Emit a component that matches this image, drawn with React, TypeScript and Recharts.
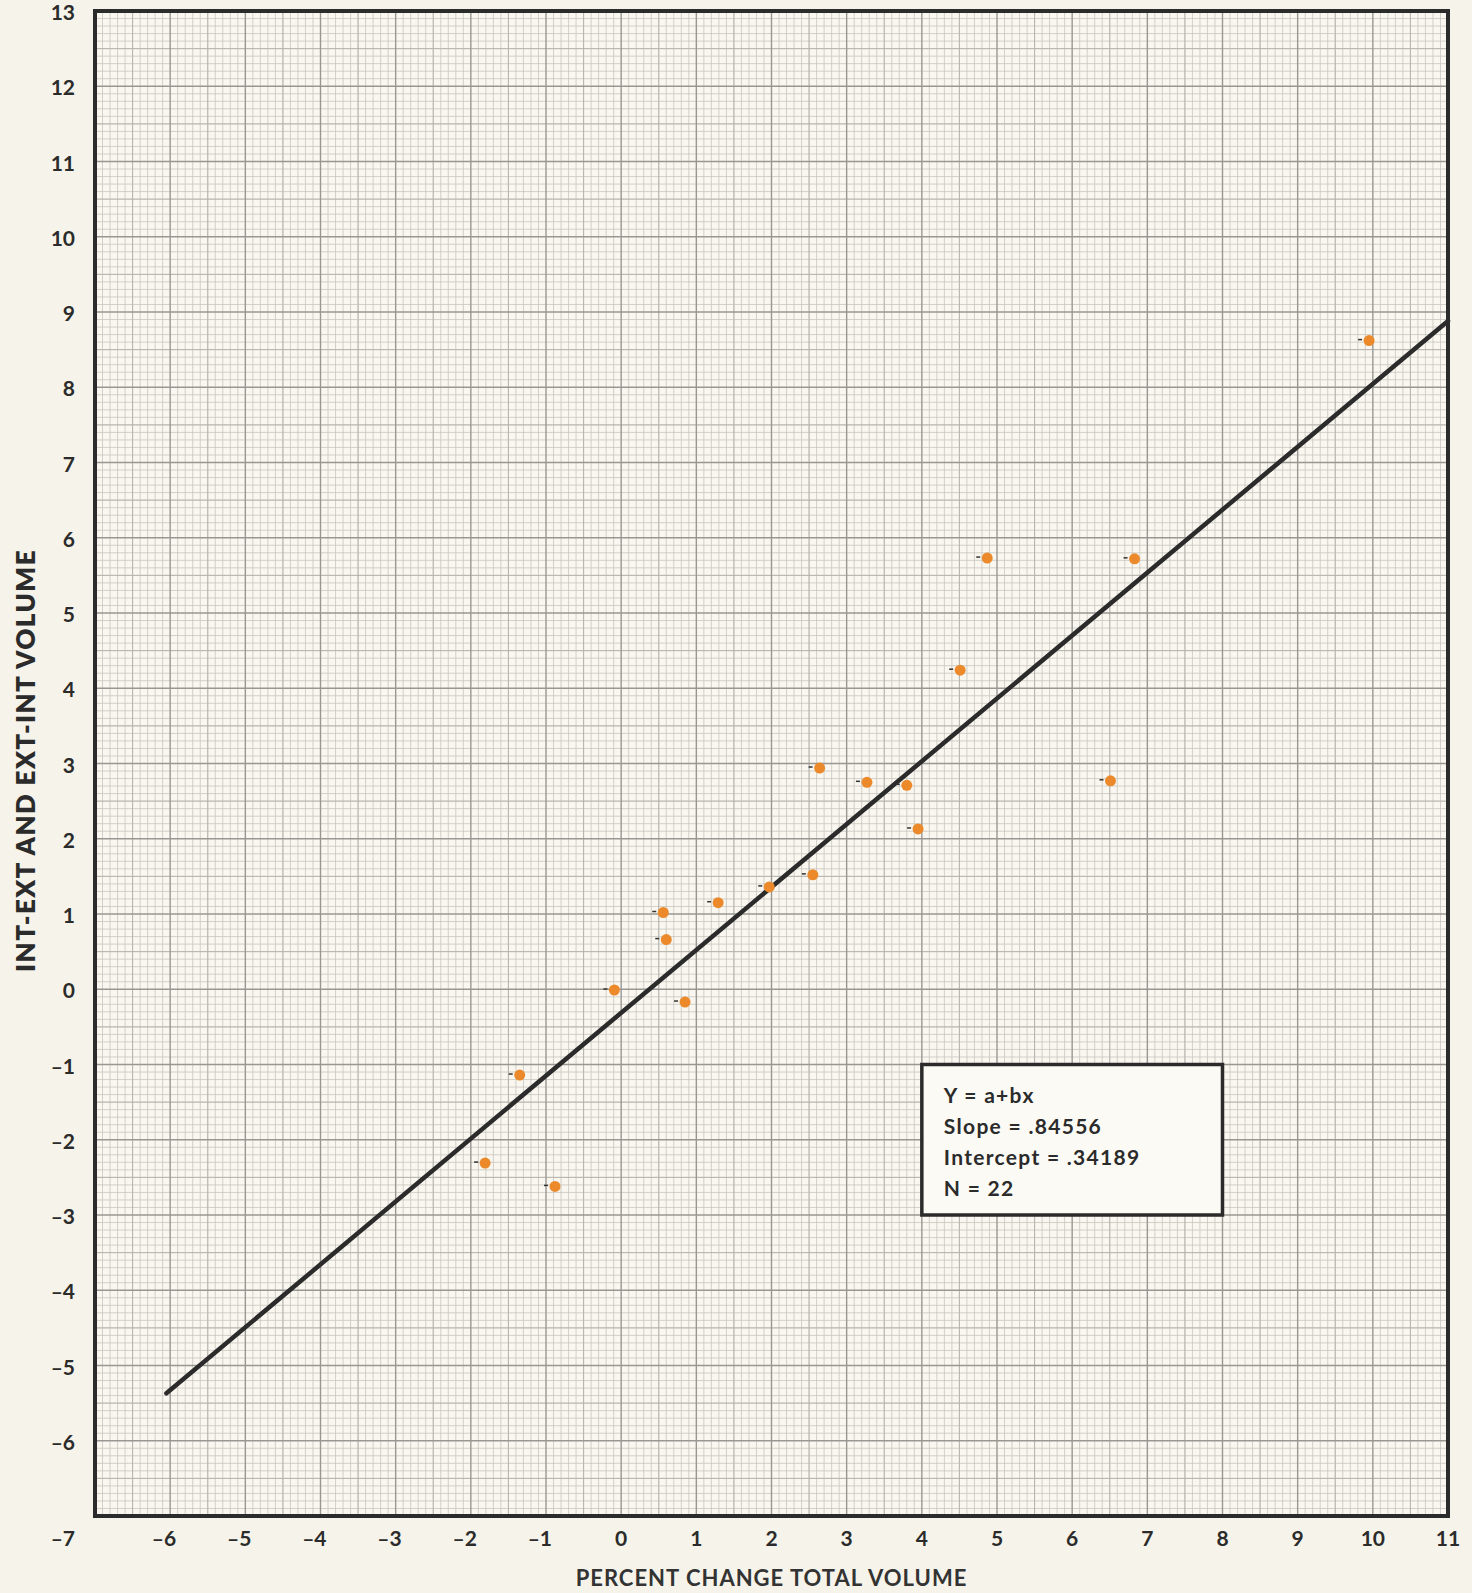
import React from "react";
import {
  ScatterChart,
  Scatter,
  XAxis,
  YAxis,
  CartesianGrid,
  ReferenceLine,
  ReferenceArea,
} from "recharts";

// observed points (percent change total volume vs int-ext / ext-int volume)
const totalChange = [9.95, 4.87, 6.83, 4.51, 2.64, 3.27, 3.8, 6.51, 3.95, 2.55, 1.97, 1.29, 0.56, 0.6, -0.09, 0.85, -1.35, -1.81, -0.88];
const intExtChange = [8.62, 5.73, 5.72, 4.24, 2.94, 2.75, 2.71, 2.77, 2.13, 1.52, 1.36, 1.15, 1.02, 0.66, -0.01, -0.17, -1.14, -2.31, -2.62];

// fitted line as drawn on the sheet
const fitX = [-6.05, 11];
const fitY = [-5.37, 8.88];

const xTicks = [-7, -6, -5, -4, -3, -2, -1, 0, 1, 2, 3, 4, 5, 6, 7, 8, 9, 10, 11];
const yTicks = [-7, -6, -5, -4, -3, -2, -1, 0, 1, 2, 3, 4, 5, 6, 7, 8, 9, 10, 11, 12, 13];
const yLabelled = [-6, -5, -4, -3, -2, -1, 0, 1, 2, 3, 4, 5, 6, 7, 8, 9, 10, 11, 12, 13];

const boxLines = ["Y = a+bx", "Slope = .84556", "Intercept = .34189", "N = 22"];
const boxX = [4, 8];
const boxY = [-1, -3];

const points = totalChange.map((x, i) => ({ x, y: intExtChange[i] }));

// graph paper rulings: tenths between the whole-number lines
const subdivide = (lo: number, hi: number) => {
  const out: number[] = [];
  for (let k = Math.round(lo * 10); k <= Math.round(hi * 10); k += 1) {
    if (k % 10 !== 0) out.push(k / 10);
  }
  return out;
};
const xMinor = subdivide(-7, 11);
const yMinor = subdivide(-7, 13);
const xHalf = xMinor.filter((v) => Math.abs(Math.round(v * 10) % 10) === 5);
const yHalf = yMinor.filter((v) => Math.abs(Math.round(v * 10) % 10) === 5);

const FONT = "Lato, 'Open Sans', sans-serif";
const INK = "#2b2b2b";

const fmt = (v: number) => (v < 0 ? "\u2013" + Math.abs(v) : String(v));

const XTick = (props: any) => {
  const { x, y, payload } = props;
  const v = payload.value;
  const neg = v < 0;
  let tx = neg ? x + 6 : x;
  if (v === -7) tx = x - 20;
  return (
    <text
      x={tx}
      y={y + 14.5}
      textAnchor={neg ? "end" : "middle"}
      fontFamily={FONT}
      fontWeight={700}
      fontSize={21}
      fill={INK}
    >
      {fmt(v)}
    </text>
  );
};

const YTick = (props: any) => {
  const { x, y, payload } = props;
  return (
    <text
      x={x}
      y={y + 9}
      textAnchor="end"
      fontFamily={FONT}
      fontWeight={700}
      fontSize={21}
      fill={INK}
    >
      {fmt(payload.value)}
    </text>
  );
};

const Dot = (props: any) => {
  const { cx, cy } = props;
  return (
    <g>
      <line x1={cx - 11} y1={cy - 1} x2={cx - 7} y2={cy - 1} stroke="#333" strokeWidth={1.5} />
      <circle cx={cx} cy={cy} r={5.5} fill="#ec8a2b" />
    </g>
  );
};

const BoxText = (props: any) => {
  const { viewBox } = props;
  const { x, y } = viewBox;
  return (
    <g>
      {boxLines.map((t, i) => (
        <text
          key={t}
          x={x + 22}
          y={y + 38 + i * 31}
          fontFamily={FONT}
          fontWeight={700}
          fontSize={21}
          letterSpacing={1.3}
          fill={INK}
        >
          {t}
        </text>
      ))}
    </g>
  );
};

const XTitle = (props: any) => {
  const { viewBox } = props;
  return (
    <text
      x={viewBox.x + viewBox.width / 2}
      y={viewBox.y + 70}
      textAnchor="middle"
      fontFamily={FONT}
      fontWeight={700}
      fontSize={22}
      letterSpacing={1}
      fill="#333"
    >
      PERCENT CHANGE TOTAL VOLUME
    </text>
  );
};

const YTitle = (props: any) => {
  const { viewBox } = props;
  const cx = 25;
  const cy = viewBox.y + viewBox.height / 2 - 3;
  return (
    <text
      x={cx}
      y={cy}
      transform={`rotate(-90 ${cx} ${cy})`}
      textAnchor="middle"
      dominantBaseline="central"
      fontFamily={FONT}
      fontWeight={800}
      fontSize={26}
      letterSpacing={1.4}
      fill={INK}
    >
      INT-EXT AND EXT-INT VOLUME
    </text>
  );
};

export default function App() {
  return (
    <div style={{ position: "absolute", left: 0, top: 0, width: 1472, height: 1593, background: "#f6f4ea" }}>
      <ScatterChart width={1472} height={1593} margin={{ top: 11, right: 24, bottom: 0, left: 0 }}>
        <ReferenceArea x1={-7} x2={11} y1={-7} y2={13} fill="#fbfaf4" stroke="none" ifOverflow="visible" />
        <CartesianGrid
          horizontalValues={yMinor}
          verticalValues={xMinor}
          stroke="#8e8d86"
          strokeWidth={0.75}
        />
        <CartesianGrid
          horizontalValues={yHalf}
          verticalValues={xHalf}
          stroke="#6a6963"
          strokeWidth={0.9}
        />
        <CartesianGrid
          horizontalValues={yTicks}
          verticalValues={xTicks}
          stroke="#353533"
          strokeWidth={1.4}
        />
        <XAxis
          type="number"
          dataKey="x"
          domain={[-7, 11]}
          ticks={xTicks}
          allowDataOverflow
          interval={0}
          height={77}
          tickLine={false}
          axisLine={false}
          tickSize={0}
          tickMargin={15}
          tick={<XTick />}
          label={<XTitle />}
        />
        <YAxis
          type="number"
          dataKey="y"
          domain={[-7, 13]}
          ticks={yLabelled}
          allowDataOverflow
          interval={0}
          width={95}
          tickLine={false}
          axisLine={false}
          tickSize={0}
          tickMargin={20}
          tick={<YTick />}
          label={<YTitle />}
        />
        <ReferenceLine
          segment={[
            { x: fitX[0], y: fitY[0] },
            { x: fitX[1], y: fitY[1] },
          ]}
          stroke={INK}
          strokeWidth={4.5}
          strokeLinecap="round"
          ifOverflow="visible"
        />
        <Scatter data={points} shape={<Dot />} isAnimationActive={false} />
        <ReferenceArea
          x1={boxX[0]}
          x2={boxX[1]}
          y1={boxY[0]}
          y2={boxY[1]}
          fill="#fbfaf5"
          fillOpacity={1}
          stroke={INK}
          strokeWidth={3.5}
          ifOverflow="visible"
          label={<BoxText />}
        />
        <ReferenceArea
          x1={-7}
          x2={11}
          y1={-7}
          y2={13}
          fill="none"
          stroke={INK}
          strokeWidth={4}
          ifOverflow="visible"
        />
      </ScatterChart>
    </div>
  );
}
